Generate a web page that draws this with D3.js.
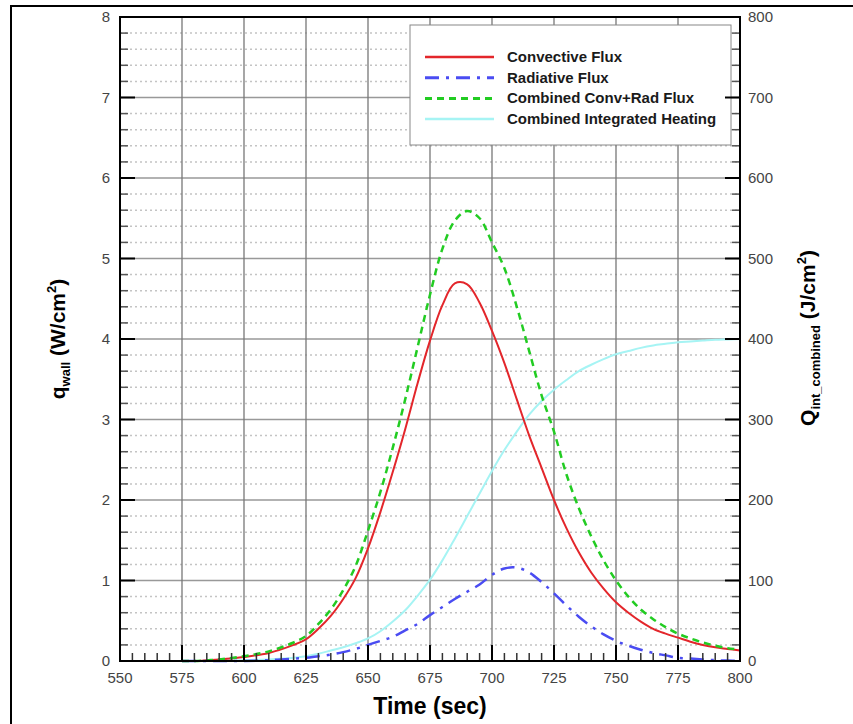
<!DOCTYPE html>
<html>
<head>
<meta charset="utf-8">
<script src="https://cdn.jsdelivr.net/npm/d3@7"></script>
<style>
    body { margin: 0; background: #fff; }
    text { font-family: "Liberation Sans", Arial, Helvetica, sans-serif; }
</style>
</head>
<body>
<div id="svg"></div>
<script>
// Time values (sec) shared by the flux curves
var times = [575, 580, 590, 600, 610, 620, 625, 630, 635, 640, 645, 650, 655, 660, 665, 670, 675,
    680, 685, 690, 695, 700, 705, 710, 715, 720, 725, 730, 735, 740, 745, 750,
    755, 760, 765, 770, 775, 780, 785, 790, 795, 800];

// Convective flux (W/cm^2)
var convective = [0, 0, 0.02, 0.05, 0.10, 0.20, 0.27, 0.40, 0.56, 0.77, 1.03, 1.40, 1.85, 2.35, 2.88, 3.45, 3.98,
    4.42, 4.69, 4.68, 4.45, 4.10, 3.70, 3.25, 2.80, 2.40, 2.00, 1.65, 1.35, 1.10, 0.90, 0.73,
    0.60, 0.49, 0.40, 0.34, 0.29, 0.24, 0.20, 0.17, 0.15, 0.13];

// Radiative flux (W/cm^2)
var radiative = [0, 0, 0, 0, 0.01, 0.03, 0.04, 0.06, 0.08, 0.11, 0.15, 0.20, 0.25, 0.30, 0.38, 0.46, 0.57,
    0.67, 0.77, 0.86, 0.95, 1.07, 1.15, 1.16, 1.10, 0.98, 0.84, 0.69, 0.55, 0.43, 0.33, 0.25,
    0.19, 0.14, 0.10, 0.07, 0.04, 0.03, 0.02, 0.01, 0.005, 0];

// Combined conv+rad flux (W/cm^2)
var combined = [0, 0, 0.02, 0.06, 0.12, 0.23, 0.31, 0.46, 0.64, 0.88, 1.18, 1.62, 2.10, 2.65, 3.25, 3.90, 4.55,
    5.12, 5.47, 5.59, 5.50, 5.20, 4.88, 4.40, 3.85, 3.30, 2.85, 2.32, 1.90, 1.55, 1.25, 1.00,
    0.80, 0.64, 0.52, 0.42, 0.34, 0.28, 0.23, 0.19, 0.16, 0.14];

// Combined integrated heating (J/cm^2)
var integrated = [0, 0, 0.5, 1, 2, 4, 6, 9, 13, 17, 22, 28, 37, 49, 63, 81, 101,
    125, 152, 180, 208, 236, 262, 285, 306, 323, 337, 349, 360, 368, 375, 381,
    385, 389, 392, 394, 396, 397, 398, 399, 399.5, 400];

// Axis ticks
var xTicks = [550, 575, 600, 625, 650, 675, 700, 725, 750, 775, 800];
var yTicks = [0, 1, 2, 3, 4, 5, 6, 7, 8];
var y2Ticks = [0, 100, 200, 300, 400, 500, 600, 700, 800];

var legendLabels = ["Convective Flux", "Radiative Flux", "Combined Conv+Rad Flux", "Combined Integrated Heating"];

// Sizes
var svgWidth = 853;
var svgHeight = 724;
var margins = { top: 17, bottom: 63, left: 120, right: 113 };
var width = svgWidth - margins.left - margins.right;
var height = svgHeight - margins.top - margins.bottom;

var svg = d3.select("#svg")
    .append("svg")
    .attr("width", svgWidth)
    .attr("height", svgHeight);

// Outer frame of the figure (right and bottom edges run off the picture)
svg.append("rect")
    .attr("x", 11).attr("y", 6)
    .attr("width", 860).attr("height", 740)
    .attr("fill", "none")
    .attr("stroke", "#000")
    .attr("stroke-width", 2);

var g = svg.append("g")
    .attr("transform", "translate(" + margins.left + "," + margins.top + ")");

// Scales
var x = d3.scaleLinear().domain([550, 800]).range([0, width]);
var y = d3.scaleLinear().domain([0, 8]).range([height, 0]);
var y2 = d3.scaleLinear().domain([0, 800]).range([height, 0]);

// Dotted minor grid (every 0.2)
var minorY = d3.range(0, 8.001, 0.2).filter(d => Math.abs(d - Math.round(d)) > 0.01);
g.append("g")
    .selectAll("line")
    .data(minorY)
    .join("line")
    .attr("x1", 0).attr("x2", width)
    .attr("y1", d => y(d)).attr("y2", d => y(d))
    .attr("stroke", "#c4c4c4")
    .attr("stroke-width", 1.5)
    .attr("stroke-dasharray", "2,3");

// Major grid
g.append("g")
    .selectAll("line")
    .data(yTicks)
    .join("line")
    .attr("x1", 0).attr("x2", width)
    .attr("y1", d => y(d)).attr("y2", d => y(d))
    .attr("stroke", "#999")
    .attr("stroke-width", 1.5);
g.append("g")
    .selectAll("line")
    .data(xTicks)
    .join("line")
    .attr("x1", d => x(d)).attr("x2", d => x(d))
    .attr("y1", 0).attr("y2", height)
    .attr("stroke", "#777")
    .attr("stroke-width", 1.3);

// Curves
function makeRows(values) {
    var rows = [];
    for (var i = 0; i < times.length; i++) {
        rows.push({ t: times[i], v: values[i] });
    }
    return rows;
}

var line = d3.line()
    .curve(d3.curveCatmullRom)
    .x(d => x(d.t))
    .y(d => y(d.v));
var line2 = d3.line()
    .curve(d3.curveMonotoneX)
    .x(d => x(d.t))
    .y(d => y2(d.v));

var styles = [
    { color: "#e3262b", width: 2, dash: null },
    { color: "#4a4cf2", width: 2.5, dash: "14,7,3,7" },
    { color: "#22cc22", width: 2.5, dash: "7,5" },
    { color: "#a6f4f4", width: 2, dash: null }
];

g.append("path")
    .attr("d", line2(makeRows(integrated)))
    .attr("fill", "none")
    .attr("stroke", styles[3].color)
    .attr("stroke-width", styles[3].width);
g.append("path")
    .attr("d", line(makeRows(radiative)))
    .attr("fill", "none")
    .attr("stroke", styles[1].color)
    .attr("stroke-width", styles[1].width)
    .attr("stroke-dasharray", styles[1].dash);
g.append("path")
    .attr("d", line(makeRows(convective)))
    .attr("fill", "none")
    .attr("stroke", styles[0].color)
    .attr("stroke-width", styles[0].width);
g.append("path")
    .attr("d", line(makeRows(combined)))
    .attr("fill", "none")
    .attr("stroke", styles[2].color)
    .attr("stroke-width", styles[2].width)
    .attr("stroke-dasharray", styles[2].dash);

// Legend
var legend = g.append("g").attr("transform", "translate(290,8)");
legend.append("rect")
    .attr("width", 321).attr("height", 120)
    .attr("fill", "#fff")
    .attr("stroke", "#888")
    .attr("stroke-width", 1);
legendLabels.forEach(function (label, i) {
    var ly = 32 + i * 20.7;
    legend.append("line")
        .attr("x1", 15).attr("x2", 84)
        .attr("y1", ly).attr("y2", ly)
        .attr("stroke", styles[i].color)
        .attr("stroke-width", styles[i].width + 0.5)
        .attr("stroke-dasharray", styles[i].dash);
    legend.append("text")
        .attr("x", 97).attr("y", ly + 5)
        .attr("font-size", 15)
        .attr("font-weight", "bold")
        .attr("fill", "#1a1a1a")
        .text(label);
});

// Ticks (all pointing inward)
var minorX = d3.range(550, 800.1, 5).filter(d => d % 25 != 0);
var minorY2 = d3.range(0, 800.1, 20).filter(d => d % 100 != 0);

g.append("g").selectAll("line").data(minorX).join("line")
    .attr("x1", d => x(d)).attr("x2", d => x(d))
    .attr("y1", height).attr("y2", height - 8)
    .attr("stroke", "#333").attr("stroke-width", 1.5);
g.append("g").selectAll("line").data(xTicks).join("line")
    .attr("x1", d => x(d)).attr("x2", d => x(d))
    .attr("y1", height).attr("y2", height - 16)
    .attr("stroke", "#000").attr("stroke-width", 2);

g.append("g").selectAll("line").data(minorY).join("line")
    .attr("x1", 0).attr("x2", 8)
    .attr("y1", d => y(d)).attr("y2", d => y(d))
    .attr("stroke", "#555").attr("stroke-width", 1.5);
g.append("g").selectAll("line").data(yTicks).join("line")
    .attr("x1", 0).attr("x2", 15)
    .attr("y1", d => y(d)).attr("y2", d => y(d))
    .attr("stroke", "#000").attr("stroke-width", 2);

g.append("g").selectAll("line").data(minorY2).join("line")
    .attr("x1", width).attr("x2", width - 8)
    .attr("y1", d => y2(d)).attr("y2", d => y2(d))
    .attr("stroke", "#555").attr("stroke-width", 1.5);
g.append("g").selectAll("line").data(y2Ticks).join("line")
    .attr("x1", width).attr("x2", width - 15)
    .attr("y1", d => y2(d)).attr("y2", d => y2(d))
    .attr("stroke", "#000").attr("stroke-width", 2);

// Plot frame
g.append("rect")
    .attr("width", width).attr("height", height)
    .attr("fill", "none")
    .attr("stroke", "#000")
    .attr("stroke-width", 2);

// Tick labels
g.append("g").selectAll("text").data(xTicks).join("text")
    .attr("x", d => x(d)).attr("y", height + 22)
    .attr("text-anchor", "middle")
    .attr("font-size", 15)
    .attr("fill", "#444")
    .text(d => d);
g.append("g").selectAll("text").data(yTicks).join("text")
    .attr("x", -10).attr("y", d => y(d) + 5)
    .attr("text-anchor", "end")
    .attr("font-size", 15)
    .attr("fill", "#444")
    .text(d => d);
g.append("g").selectAll("text").data(y2Ticks).join("text")
    .attr("x", width + 8).attr("y", d => y2(d) + 5)
    .attr("text-anchor", "start")
    .attr("font-size", 15)
    .attr("fill", "#444")
    .text(d => d);

// Axis titles
svg.append("text")
    .attr("x", 430).attr("y", 714)
    .attr("text-anchor", "middle")
    .attr("font-size", 23)
    .attr("font-weight", "bold")
    .text("Time (sec)");

var leftTitle = svg.append("text")
    .attr("transform", "translate(65,339) rotate(-90)")
    .attr("text-anchor", "middle")
    .attr("font-size", 21)
    .attr("font-weight", "bold");
leftTitle.append("tspan").text("q");
leftTitle.append("tspan").attr("dy", 5).attr("font-size", 13).text("wall");
leftTitle.append("tspan").attr("dy", -5).text(" (W/cm");
leftTitle.append("tspan").attr("dy", -9).attr("font-size", 13).text("2");
leftTitle.append("tspan").attr("dy", 9).text(")");

var rightTitle = svg.append("text")
    .attr("transform", "translate(815,338) rotate(-90)")
    .attr("text-anchor", "middle")
    .attr("font-size", 21)
    .attr("font-weight", "bold");
rightTitle.append("tspan").text("Q");
rightTitle.append("tspan").attr("dy", 5).attr("font-size", 13).text("int_combined");
rightTitle.append("tspan").attr("dy", -5).text(" (J/cm");
rightTitle.append("tspan").attr("dy", -9).attr("font-size", 13).text("2");
rightTitle.append("tspan").attr("dy", 9).text(")");
</script>
</body>
</html>
